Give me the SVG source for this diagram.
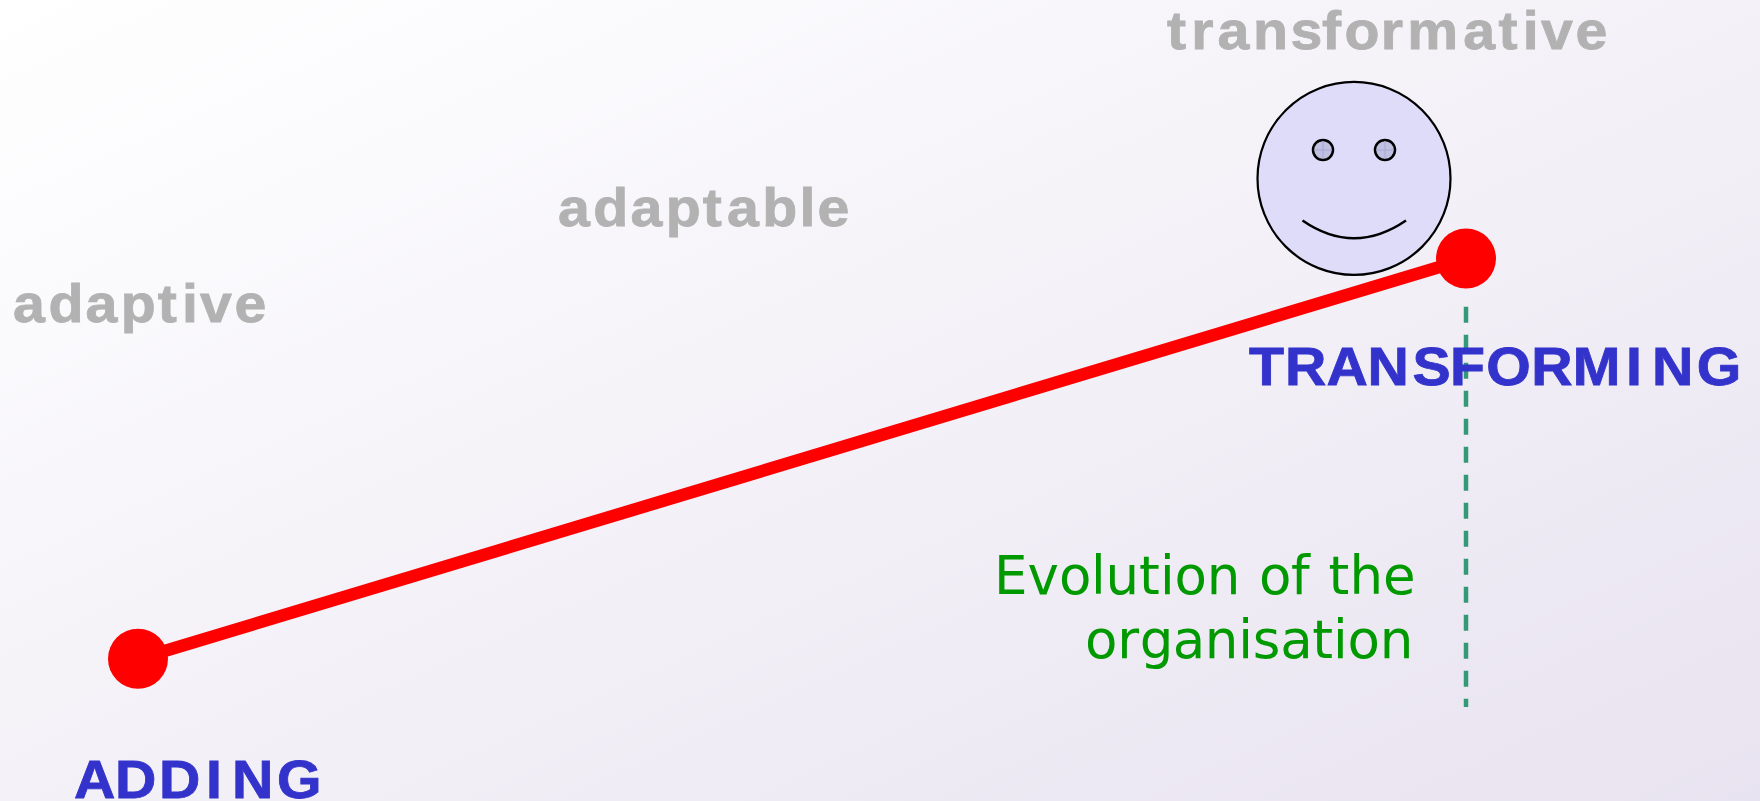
<svg xmlns="http://www.w3.org/2000/svg" width="1760" height="801" viewBox="0 0 1760 801">
<defs><linearGradient id="bg" x1="0" y1="0" x2="1" y2="1"><stop offset="0" stop-color="#ffffff"/><stop offset="1" stop-color="#e8e3f0"/></linearGradient></defs>
<style>
.g{font:bold 53px "Liberation Sans",Arial,sans-serif;fill:#b2b2b2;stroke:#b2b2b2;stroke-width:.8}
.b{font:bold 53px "Liberation Sans",Arial,sans-serif;fill:#3333cc;stroke:#3333cc;stroke-width:.8}
.e{font:53px "DejaVu Sans",sans-serif;fill:#009900}
.l{fill:none;stroke:#000;stroke-width:2.5}
.d{fill:#f00}
.eye{fill:#c0c0e0;stroke:#000;stroke-width:2.5}
.x{stroke:#a8a8d4;stroke-width:1}
</style>
<rect width="1760" height="801" fill="url(#bg)"/>
<g id="connectors">
<line x1="138" y1="659" x2="1466" y2="259" stroke="#f00" stroke-width="12.5"/>
<line x1="1466" y1="306.7" x2="1466" y2="707" stroke="#339977" stroke-width="4.5" stroke-dasharray="16 12"/>
</g>
<g id="smiley">
<circle cx="1354" cy="178.4" r="96.5" fill="#dedcf9" stroke="#000" stroke-width="2.2"/>
<circle class="eye" cx="1323" cy="150" r="10"/>
<path class="x" d="M1323 141V159M1314 150H1332"/>
<circle class="eye" cx="1385" cy="150" r="10"/>
<path class="x" d="M1385 141V159M1376 150H1394"/>
<path class="l" d="M1302.500 220.500Q1354 256 1406 220.500"/>
</g>
<g id="n-adding"><circle class="d" cx="138" cy="658.700" r="30"/><text class="b" transform="scale(1.08 1)" x="68.500 106.600 147.300 190.700 214.800 256.400" y="798">ADDING</text></g>
<g id="n-transforming"><circle class="d" cx="1466" cy="258.500" r="30"/><text class="b" transform="scale(1.08 1)" x="1156.500 1189.900 1228.200 1266.300 1307.800 1342.600 1376.100 1417.900 1456.200 1505.600 1529.600 1571.100" y="385">TRANSFORMING</text></g>
<g id="labels">
<text class="g" transform="scale(1.08 1)" x="12 44.800 79.100 111.900 146.100 168.500 185.300 217.200" y="322">adaptive</text>
<text class="g" transform="scale(1.08 1)" x="516.700 549.400 583.700 616.500 650.700 673.100 705.900 740.200 756.900" y="226">adaptable</text>
<text class="g" transform="scale(1.08 1)" x="1080.600 1103 1127.300 1160.100 1195 1224.100 1244.800 1278.500 1302.900 1354.800 1387.600 1410 1426.800 1458.700" y="49.500">transformative</text>
<text class="e" x="994 1027.500 1058.900 1091.100 1105.600 1139.100 1160 1174.500 1206.700 1240.200 1258.900 1291.100 1309.800 1328.500 1349.400 1382.900" y="594">Evolution of the</text>
<text class="e" x="1085 1117.200 1139.800 1172.800 1204.700 1238.200 1252.700 1280.300 1312.200 1333.100 1347.600 1379.800" y="658">organisation</text>
</g>
</svg>
